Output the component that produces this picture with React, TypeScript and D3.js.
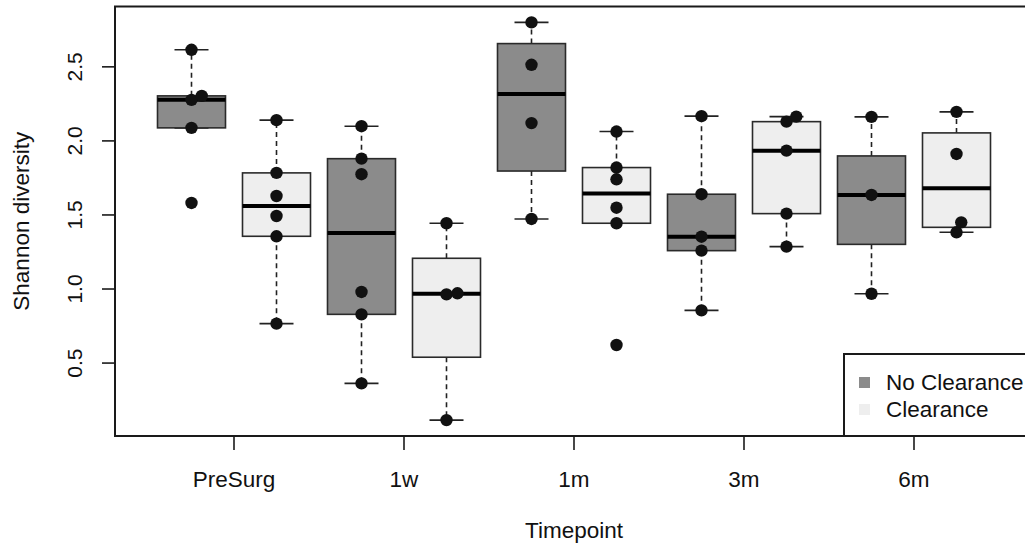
import React from "react";
import * as d3 from "d3";

// ---- data ----
const timepoints = ["PreSurg", "1w", "1m", "3m", "6m"];
const groups = ["No Clearance", "Clearance"];
const groupFills = ["#8b8b8b", "#eeeeee"];

const noClearance: number[][] = [
  [2.615, 2.304, 2.277, 2.088, 1.581],
  [2.099, 1.88, 1.775, 0.98, 0.829, 0.363],
  [2.8, 2.514, 2.12, 1.473],
  [2.167, 1.64, 1.353, 1.259, 0.856],
  [2.162, 1.635, 0.968],
];
const clearance: number[][] = [
  [2.14, 1.784, 1.628, 1.493, 1.356, 0.766],
  [1.444, 0.971, 0.964, 0.115],
  [2.063, 1.82, 1.741, 1.549, 1.444, 0.622],
  [2.164, 2.13, 1.934, 1.509, 1.286],
  [2.196, 1.912, 1.45, 1.383],
];
const yTicks = [0.5, 1.0, 1.5, 2.0, 2.5];
const yLabel = "Shannon diversity";
const xLabel = "Timepoint";

// ---- layout ----
const W = 1025;
const H = 545;
const plotLeft = 115;
const plotRight = 1033;
const plotTop = 6.5;
const plotBottom = 436;
const FONT = "'Liberation Sans', Arial, Helvetica, sans-serif";
const PT_R = 6.2;
const FS = 22.5;

// R-style fivenum (Tukey hinges)
function fivenum(vals: number[]) {
  const x = [...vals].sort((a, b) => a - b);
  const n = x.length;
  const n4 = Math.floor((n + 3) / 2) / 2;
  const d = [1, n4, (n + 1) / 2, n + 1 - n4, n];
  return d.map((k) => 0.5 * (x[Math.floor(k) - 1] + x[Math.ceil(k) - 1]));
}

function boxStats(vals: number[]) {
  const [, q1, med, q3] = fivenum(vals);
  const iqr = q3 - q1;
  const lo = q1 - 1.5 * iqr;
  const hi = q3 + 1.5 * iqr;
  const inside = vals.filter((v) => v >= lo && v <= hi);
  return {
    q1,
    med,
    q3,
    wLo: Math.min(...inside),
    wHi: Math.max(...inside),
  };
}

export default function App() {
  const all = [...noClearance.flat(), ...clearance.flat()];
  const dMin = d3.min(all)!;
  const dMax = d3.max(all)!;
  const ext = (dMax - dMin) * 0.04;
  const y = d3
    .scaleLinear()
    .domain([dMin - ext, dMax + ext])
    .range([plotBottom, plotTop]);
  const nBox = timepoints.length * groups.length;
  const x = d3
    .scaleLinear()
    .domain([0.5 - nBox * 0.04, nBox + 0.5 + nBox * 0.04])
    .range([plotLeft, plotRight]);

  const series = [noClearance, clearance];
  const boxes: { pos: number; g: number; vals: number[] }[] = [];
  timepoints.forEach((_, t) => {
    groups.forEach((_, g) => {
      boxes.push({ pos: 2 * t + g + 1, g, vals: series[g][t] });
    });
  });

  const halfW = x(1.4) - x(1);
  const capW = x(1.2) - x(1);

  return (
    <svg
      width={W}
      height={H}
      style={{ position: "absolute", left: 0, top: 0, background: "#fff" }}
      fontFamily={FONT}
    >
      <rect x={0} y={0} width={W} height={H} fill="#fff" />
      {/* boxes */}
      {boxes.map((b, i) => {
        const s = boxStats(b.vals);
        const cx = x(b.pos);
        return (
          <g key={"b" + i}>
            <line x1={cx} x2={cx} y1={y(s.q3)} y2={y(s.wHi)} stroke="#222" strokeWidth={1.6} strokeDasharray="5,4" />
            <line x1={cx} x2={cx} y1={y(s.q1)} y2={y(s.wLo)} stroke="#222" strokeWidth={1.6} strokeDasharray="5,4" />
            <line x1={cx - capW} x2={cx + capW} y1={y(s.wHi)} y2={y(s.wHi)} stroke="#222" strokeWidth={1.6} />
            <line x1={cx - capW} x2={cx + capW} y1={y(s.wLo)} y2={y(s.wLo)} stroke="#222" strokeWidth={1.6} />
            <rect
              x={cx - halfW}
              y={y(s.q3)}
              width={2 * halfW}
              height={y(s.q1) - y(s.q3)}
              fill={groupFills[b.g]}
              stroke="#2a2a2a"
              strokeWidth={1.6}
            />
            <line x1={cx - halfW} x2={cx + halfW} y1={y(s.med)} y2={y(s.med)} stroke="#000" strokeWidth={4} />
          </g>
        );
      })}
      {/* points, nudged right when overlapping the previous one */}
      {boxes.map((b, i) => {
        const cx = x(b.pos);
        const sorted = [...b.vals].sort((a, c) => a - c);
        const dia = 11;
        let prevY: number | null = null;
        return (
          <g key={"p" + i}>
            {sorted.map((v, k) => {
              const py = y(v);
              let dx = 0;
              if (prevY !== null) {
                const dy = Math.abs(prevY - py);
                if (dy < dia) dx = Math.sqrt(dia * dia - dy * dy);
              }
              prevY = dx === 0 ? py : prevY;
              return <circle key={k} cx={cx + dx} cy={py} r={PT_R} fill="#111" />;
            })}
          </g>
        );
      })}
      {/* frame */}
      <rect
        x={plotLeft}
        y={plotTop}
        width={plotRight - plotLeft}
        height={plotBottom - plotTop}
        fill="none"
        stroke="#1a1a1a"
        strokeWidth={2}
      />
      {/* y axis */}
      {yTicks.map((t) => (
        <g key={"y" + t}>
          <line x1={plotLeft} x2={plotLeft - 13} y1={y(t)} y2={y(t)} stroke="#1a1a1a" strokeWidth={1.6} />
          <text
            transform={`translate(${plotLeft - 33},${y(t)}) rotate(-90)`}
            textAnchor="middle"
            fontSize={21}
            fill="#111"
          >
            {t.toFixed(1)}
          </text>
        </g>
      ))}
      <text
        transform={`translate(29,${(plotTop + plotBottom) / 2}) rotate(-90)`}
        textAnchor="middle"
        fontSize={FS}
        fill="#111"
      >
        {yLabel}
      </text>
      {/* x axis */}
      {timepoints.map((t, i) => {
        const tx = x(2 * i + 1.5);
        return (
          <g key={"x" + t}>
            <line x1={tx} x2={tx} y1={plotBottom} y2={plotBottom + 14} stroke="#1a1a1a" strokeWidth={1.6} />
            <text x={tx} y={487} textAnchor="middle" fontSize={FS} fill="#111">
              {t}
            </text>
          </g>
        );
      })}
      <text x={(plotLeft + plotRight) / 2} y={538} textAnchor="middle" fontSize={FS} fill="#111">
        {xLabel}
      </text>
      {/* legend */}
      <g>
        <rect x={844} y={354} width={plotRight - 844} height={plotBottom - 354} fill="#fff" stroke="#1a1a1a" strokeWidth={2} />
        {groups.map((g, i) => (
          <g key={"l" + g}>
            <rect x={859} y={377 + i * 27} width={11} height={11} fill={groupFills[i]} />
            <text x={886} y={390 + i * 27} fontSize={FS} fill="#111">
              {g}
            </text>
          </g>
        ))}
      </g>
    </svg>
  );
}
